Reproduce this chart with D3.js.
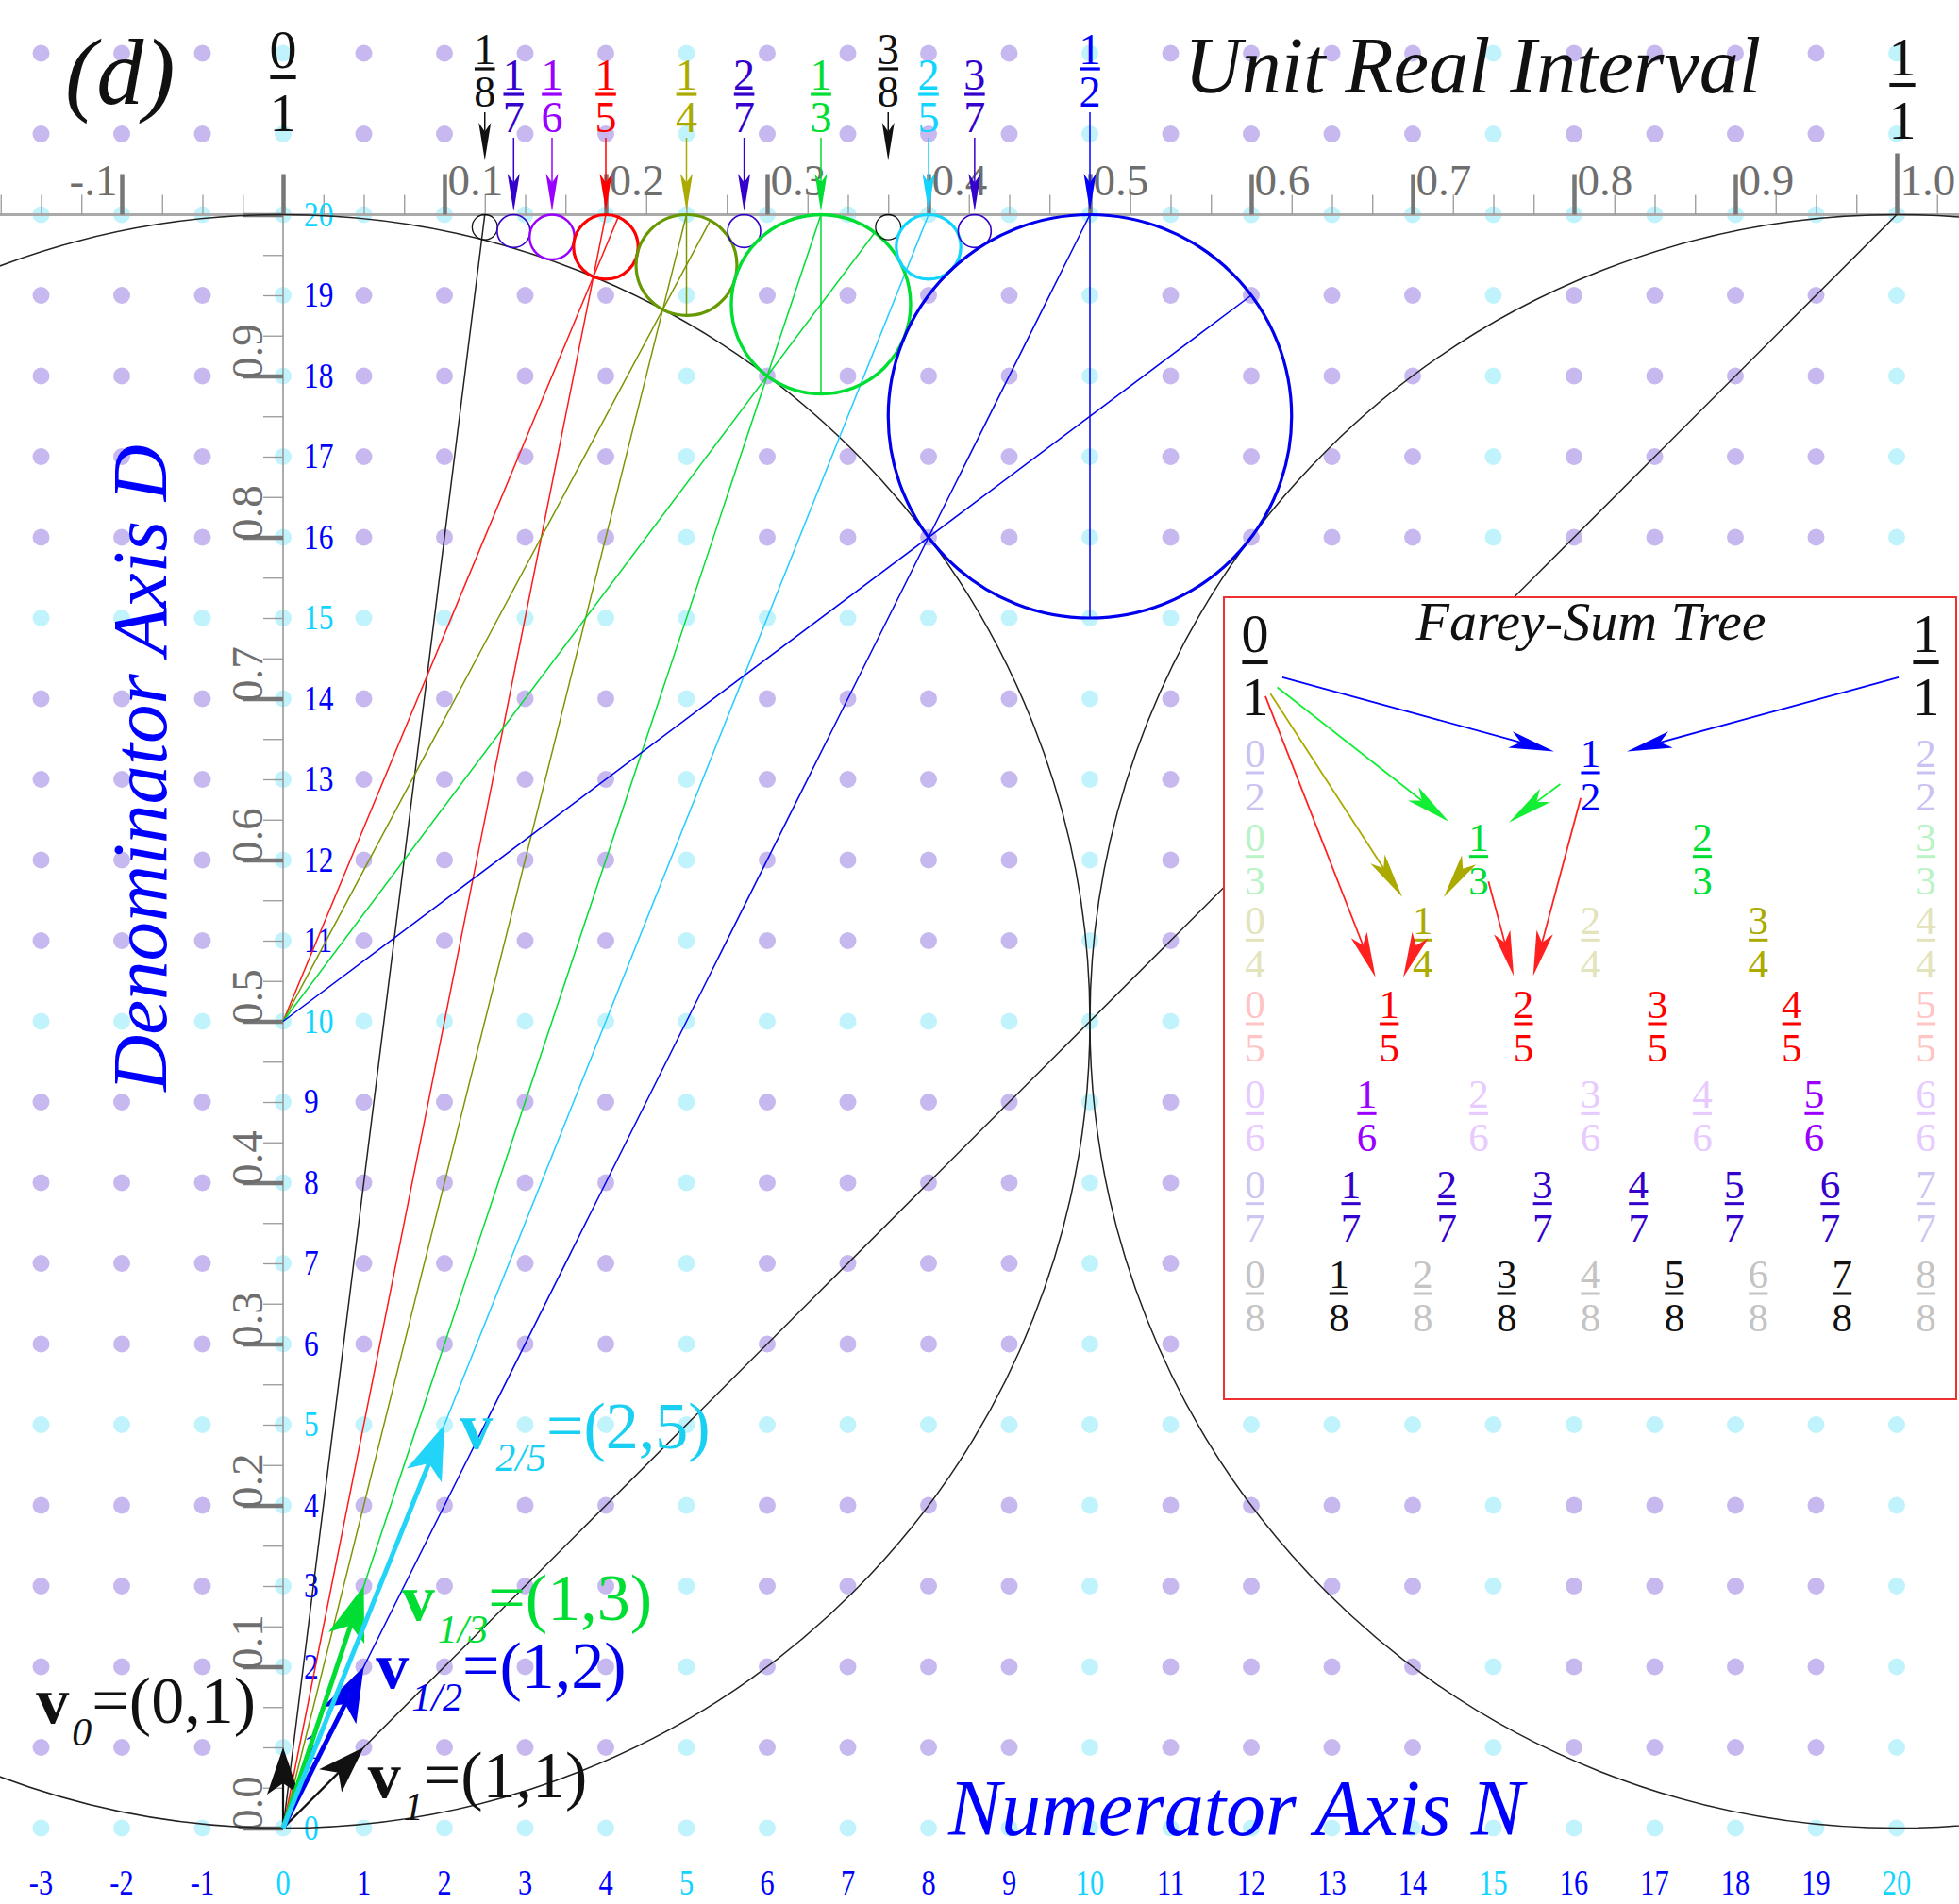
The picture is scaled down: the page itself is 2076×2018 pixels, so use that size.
<!DOCTYPE html>
<html lang="en">
<head>
<meta charset="UTF-8">
<title>Unit Real Interval</title>
<script src="https://cdnjs.cloudflare.com/ajax/libs/d3/7.8.5/d3.min.js"></script>
<style>
    * { margin: 0; padding: 0; box-sizing: border-box; }
    body { background: #fff; }
    svg { display: block; }
</style>
</head>
<body>
<div id="chart"></div>
<script>
    const width = 2076, height = 2018;
    const serif = '"Liberation Serif", "Times New Roman", serif';

    // lattice of (numerator, denominator) points
    const latticeN = d3.range(-3, 21);
    const latticeD = d3.range(0, 23);
    const bottomLabels = d3.range(-3, 21);
    const sideLabels = d3.range(0, 21);

    // unit real interval axis (top) and its copy on the D axis
    const intervalMinor = d3.range(-7, 42).map(i => i / 40);
    const intervalMajor = [-0.1, 0, 0.1, 0.2, 0.3, 0.4, 0.5, 0.6, 0.7, 0.8, 0.9, 1.0];
    const intervalTickLabels = ["-.1", "", "0.1", "0.2", "0.3", "0.4", "0.5", "0.6", "0.7", "0.8", "0.9", "1.0"];
    const denomMinor = d3.range(0, 41).map(i => i / 40);
    const denomMajor = [0, 0.1, 0.2, 0.3, 0.4, 0.5, 0.6, 0.7, 0.8, 0.9, 1.0];
    const denomTickLabels = ["0.0", "0.1", "0.2", "0.3", "0.4", "0.5", "0.6", "0.7", "0.8", "0.9", ""];

    // fractions
    const topFractions = ["1/8", "1/7", "1/6", "1/5", "1/4", "2/7", "1/3", "3/8", "2/5", "3/7", "1/2"];
    const endFractions = ["0/1", "1/1"];
    const originRays = ["1/8", "1/5", "1/4", "1/3", "2/5", "1/2", "1/1"];
    const centerRays = ["1/5", "1/4", "1/3", "1/2"];
    const diameters = ["1/4", "1/3", "1/2"];
    const vectors = [
        { label: "0", n: 0, d: 1 },
        { label: "1", n: 1, d: 1 },
        { label: "1/2", n: 1, d: 2 },
        { label: "1/3", n: 1, d: 3 },
        { label: "2/5", n: 2, d: 5 }
    ];
    const treeDenominators = [1, 2, 3, 4, 5, 6, 7, 8];
    const treeEdges = [
        ["0/1", "1/2"], ["1/1", "1/2"],
        ["0/1", "1/3"], ["1/2", "1/3"],
        ["0/1", "1/4"], ["1/3", "1/4"],
        ["0/1", "1/5"], ["1/4", "1/5"],
        ["1/3", "2/5"], ["1/2", "2/5"]
    ];

    // styles
    const fracColor = {
        "0/1": "#111", "1/1": "#111", "1/8": "#111", "3/8": "#111",
        "1/7": "#3300cc", "2/7": "#3300cc", "3/7": "#3300cc",
        "1/6": "#9900ff", "1/5": "#ff0000", "1/4": "#aaaa00",
        "1/3": "#00dd33", "2/5": "#11d4ff", "1/2": "#0000ff"
    };
    const circleColor = Object.assign({}, fracColor, { "1/4": "#669900", "1/2": "#0000ee", "0/1": "#222", "1/1": "#222" });
    const circleWidth = {
        "1/8": 1.3, "3/8": 1.3, "1/7": 1.6, "2/7": 1.6, "3/7": 1.6, "1/6": 2.4,
        "1/5": 3.2, "1/4": 3.2, "1/3": 3.4, "2/5": 3.2, "1/2": 3.2
    };
    const rayColor = {
        "1/8": "#222", "1/1": "#222", "1/5": "#ff1a1a", "1/4": "#7a9400",
        "1/3": "#00dd33", "2/5": "#22ccff", "1/2": "#0000ee"
    };
    const highLabels = ["1/8", "3/8", "1/2"];
    const vecColor = { "0": "#111", "1": "#111", "1/2": "#0000ee", "1/3": "#00dd33", "2/5": "#22d4f8" };
    const vecLabelPos = { "0": [-3.06, 1.30], "1": [1.05, 0.38], "1/2": [1.15, 1.74], "1/3": [1.47, 2.58], "2/5": [2.19, 4.71] };
    const treeColor = { 1: "#111", 2: "#0000ff", 3: "#00dd33", 4: "#aaaa00", 5: "#ff0000", 6: "#9900ff", 7: "#3300cc", 8: "#111" };
    const treeFade = { 2: "#c9c2f2", 3: "#b9f3c6", 4: "#e3e3bc", 5: "#ffc4c4", 6: "#e7caff", 7: "#cdc6f2", 8: "#c4c4c4" };
    const treeEdgeColor = { 2: "#0000ff", 3: "#11ee33", 4: "#aaaa00", 5: "#ff2020" };

    const frac = s => { const [p, q] = s.split("/").map(Number); return { p, q, v: p / q }; };
    const gcd = (a, b) => b === 0 ? a : gcd(b, a % b);

    const x = d3.scaleLinear().domain([0, 20]).range([300, 2010]);
    const y = d3.scaleLinear().domain([0, 20]).range([1937.5, 227.5]);
    const unit = x(1) - x(0);
    const t = d3.scaleLinear().domain([0, 1]).range([x(0), x(20)]);
    const s = d3.scaleLinear().domain([0, 1]).range([y(0), y(20)]);

    const svg = d3.select("#chart").append("svg")
        .attr("width", width).attr("height", height)
        .style("font-family", serif);
    svg.append("rect").attr("width", width).attr("height", height).attr("fill", "#fff");

    function arrow(g, x1, y1, x2, y2, color, lw, headLen, headW) {
        const L = Math.hypot(x2 - x1, y2 - y1), ux = (x2 - x1) / L, uy = (y2 - y1) / L;
        const nx = -uy, ny = ux;
        const bx = x2 - ux * headLen, by = y2 - uy * headLen;
        const kx = x2 - ux * headLen * 0.76, ky = y2 - uy * headLen * 0.76;
        g.append("line").attr("x1", x1).attr("y1", y1).attr("x2", kx).attr("y2", ky)
            .attr("stroke", color).attr("stroke-width", lw);
        const p = d3.path();
        p.moveTo(x2, y2);
        p.lineTo(bx + nx * headW / 2, by + ny * headW / 2);
        p.lineTo(kx, ky);
        p.lineTo(bx - nx * headW / 2, by - ny * headW / 2);
        p.closePath();
        g.append("path").attr("d", p.toString()).attr("fill", color);
    }

    function fraction(g, cx, barY, p, q, size, numGap, denGap, color) {
        g.append("text").attr("x", cx).attr("y", barY - numGap).attr("text-anchor", "middle")
            .attr("font-size", size).attr("fill", color).text(p);
        g.append("rect").attr("x", cx - size * 0.235).attr("y", barY - size * 0.035)
            .attr("width", size * 0.47).attr("height", size * 0.07).attr("fill", color);
        g.append("text").attr("x", cx).attr("y", barY + denGap).attr("text-anchor", "middle")
            .attr("font-size", size).attr("fill", color).text(q);
    }

    // lattice dots
    svg.append("g").selectAll("circle")
        .data(d3.cross(latticeN, latticeD))
        .join("circle")
        .attr("cx", d => x(d[0])).attr("cy", d => y(d[1])).attr("r", 9)
        .attr("fill", d => (d[0] % 5 === 0 || d[1] % 5 === 0) ? "#c1f3fc" : "#c7b9ef");

    // top axis: unit real interval
    const gTop = svg.append("g").attr("transform", `translate(0,${y(20)})`);
    gTop.append("line").attr("x1", 0).attr("x2", width).attr("stroke", "#aaa").attr("stroke-width", 3);
    gTop.append("g")
        .call(d3.axisTop(t).tickValues(intervalMinor).tickSize(21).tickFormat(""))
        .call(g => g.select(".domain").remove())
        .selectAll("line").attr("stroke", "#999").attr("stroke-width", 1.3);
    gTop.append("g")
        .call(d3.axisTop(t).tickValues(intervalMajor).tickSize(43).tickFormat((d, i) => intervalTickLabels[i]))
        .call(g => g.select(".domain").remove())
        .call(g => g.selectAll("line").attr("stroke", "#777").attr("stroke-width", 4.5)
            .attr("y2", d => d === 1 ? -65 : -43))
        .call(g => g.selectAll("text")
            .attr("fill", "#6e6e6e").attr("font-size", 47).attr("font-family", serif)
            .attr("y", -21).attr("dy", 0)
            .attr("x", d => d < 0 ? -5 : 3)
            .attr("text-anchor", d => d < 0 ? "end" : "start"));

    // left axis: denominator
    const gLeft = svg.append("g").attr("transform", `translate(${x(0)},0)`);
    gLeft.append("line").attr("y1", y(0)).attr("y2", y(20)).attr("stroke", "#999").attr("stroke-width", 1.6);
    gLeft.append("g")
        .call(d3.axisLeft(s).tickValues(denomMinor).tickSize(21).tickFormat(""))
        .call(g => g.select(".domain").remove())
        .selectAll("line").attr("stroke", "#999").attr("stroke-width", 1.3);
    gLeft.append("g")
        .call(d3.axisLeft(s).tickValues(denomMajor).tickSize(43).tickFormat((d, i) => denomTickLabels[i]))
        .call(g => g.select(".domain").remove())
        .call(g => g.selectAll("line").attr("stroke", "#777").attr("stroke-width", 4.5))
        .call(g => g.selectAll("text")
            .attr("fill", "#6e6e6e").attr("font-size", 47).attr("font-family", serif)
            .attr("x", 0).attr("y", 0).attr("dy", 0).attr("text-anchor", "start")
            .attr("transform", "translate(-22,3) rotate(-90)"));

    // side and bottom number labels
    svg.append("g").selectAll("text").data(sideLabels).join("text")
        .attr("transform", d => `translate(${x(0) + 22},${y(d) + 12}) scale(0.85,1)`)
        .attr("font-size", 37)
        .attr("fill", d => d % 5 === 0 ? "#11d4ff" : "#0000ff")
        .text(d => d);
    svg.append("g").selectAll("text").data(bottomLabels).join("text")
        .attr("transform", d => `translate(${x(d)},2008) scale(0.82,1)`)
        .attr("text-anchor", "middle").attr("font-size", 37)
        .attr("fill", d => d % 5 === 0 ? "#11d4ff" : "#0000ff")
        .text(d => d);

    // Ford circles of 0/1 and 1/1
    const gGeom = svg.append("g").attr("fill", "none");
    endFractions.forEach(f => {
        const { v } = frac(f);
        gGeom.append("circle").attr("cx", x(20 * v)).attr("cy", y(10)).attr("r", 10 * unit)
            .attr("stroke", circleColor[f]).attr("stroke-width", 1.5);
    });

    // rays from origin to each fraction on the interval
    originRays.forEach(f => {
        const { v } = frac(f);
        gGeom.append("line").attr("x1", x(0)).attr("y1", y(0)).attr("x2", x(20 * v)).attr("y2", y(20))
            .attr("stroke", rayColor[f]).attr("stroke-width", 1.5);
    });

    // rays from the centre of 0/1 through each circle centre
    centerRays.forEach(f => {
        const { q, v } = frac(f);
        const r = 10 / (q * q), cn = 20 * v, cd = 20 - r;
        const L = Math.hypot(cn, cd - 10);
        const fn = cn + r * cn / L, fd = cd + r * (cd - 10) / L;
        gGeom.append("line").attr("x1", x(0)).attr("y1", y(10)).attr("x2", x(fn)).attr("y2", y(fd))
            .attr("stroke", rayColor[f]).attr("stroke-width", 1.5);
    });

    diameters.forEach(f => {
        const { q, v } = frac(f);
        gGeom.append("line").attr("x1", x(20 * v)).attr("y1", y(20)).attr("x2", x(20 * v)).attr("y2", y(20 - 20 / (q * q)))
            .attr("stroke", rayColor[f]).attr("stroke-width", 1.5);
    });

    // Ford circles along the interval
    topFractions.forEach(f => {
        const { q, v } = frac(f);
        const r = 10 / (q * q);
        gGeom.append("circle").attr("cx", x(20 * v)).attr("cy", y(20 - r)).attr("r", r * unit)
            .attr("stroke", circleColor[f]).attr("stroke-width", circleWidth[f]);
    });

    // fraction labels with arrows at the top
    const gLab = svg.append("g");
    topFractions.forEach(f => {
        const { p, q, v } = frac(f);
        const high = highLabels.includes(f);
        const bar = high ? 73 : 100;
        const cx = x(20 * v);
        fraction(gLab, cx, bar, p, q, 46, 5, 40, fracColor[f]);
        const end = (f === "1/8" || f === "3/8") ? 170 : 224;
        arrow(gLab, cx, bar + 46, cx, end, fracColor[f], 1.5, 40, 13);
    });
    fraction(gLab, x(0), 82, 0, 1, 58, 10, 57, "#111");
    fraction(gLab, x(20) + 6, 90, 1, 1, 58, 10, 57, "#111");

    // inset: Farey-sum tree
    const box = { x: 1297, y: 633, w: 776, h: 850 };
    const gTree = svg.append("g");
    gTree.append("rect").attr("x", box.x).attr("y", box.y).attr("width", box.w).attr("height", box.h)
        .attr("fill", "#fff").attr("stroke", "#ee3030").attr("stroke-width", 2);
    gTree.append("text").attr("x", 1686).attr("y", 678).attr("text-anchor", "middle")
        .attr("font-size", 58).attr("font-style", "italic").attr("fill", "#111")
        .text("Farey-Sum Tree");

    const treeX = d3.scaleLinear().domain([0, 1]).range([1330, 2041]);
    const treeBar = d3.scaleLinear().domain([1, 2, 5, 8]).range([702, 819, 1085, 1371]);

    treeDenominators.forEach(q => {
        d3.range(q + 1).forEach(p => {
            const big = q === 1;
            const reduced = gcd(p, q) === 1;
            const color = big || reduced ? treeColor[q] : treeFade[q];
            if (big) fraction(gTree, treeX(p / q), treeBar(q), p, q, 58, 11, 56, color);
            else fraction(gTree, treeX(p / q), treeBar(q), p, q, 43, 6, 40, color);
        });
    });

    const anchor = f => {
        const { q, v } = frac(f);
        return q === 1 ? [treeX(v), treeBar(1) + 8] : [treeX(v), treeBar(q) - 12];
    };
    treeEdges.forEach(([a, b]) => {
        const [ax, ay] = anchor(a), [bx, by] = anchor(b);
        const L = Math.hypot(bx - ax, by - ay), ux = (bx - ax) / L, uy = (by - ay) / L;
        const ta = frac(a).q === 1 ? 30 : 40;
        arrow(gTree, ax + ux * ta, ay + uy * ta, bx - ux * 40, by - uy * 40,
            treeEdgeColor[frac(b).q], 1.8, 48, 18);
    });

    // basis vectors
    const gVec = svg.append("g");
    vectors.forEach(vc => {
        const black = vc.label === "0" || vc.label === "1";
        arrow(gVec, x(0), y(0), x(vc.n), y(vc.d), vecColor[vc.label],
            black ? 2.2 : 5, black ? 50 : 58, black ? 34 : 40);
    });
    vectors.forEach(vc => {
        const pos = vecLabelPos[vc.label];
        const color = vc.label === "2/5" ? "#1ad0f2" : vecColor[vc.label];
        const tx = gVec.append("text").attr("x", x(pos[0])).attr("y", y(pos[1]))
            .attr("font-size", 70).attr("fill", color);
        tx.append("tspan").attr("font-weight", "bold").text("v");
        tx.append("tspan").attr("font-style", "italic").attr("font-size", 42)
            .attr("dx", 3).attr("dy", 24).text(vc.label);
        tx.append("tspan").attr("dy", -24).text(`=(${vc.n},${vc.d})`);
    });

    // titles
    svg.append("text").attr("x", 69).attr("y", 110)
        .attr("font-size", 100).attr("font-style", "italic").attr("fill", "#111").text("(d)");
    svg.append("text").attr("x", 1255).attr("y", 98)
        .attr("font-size", 84).attr("font-style", "italic").attr("fill", "#111").text("Unit Real Interval");
    svg.append("text").attr("transform", "translate(176,814) rotate(-90)")
        .attr("text-anchor", "middle")
        .attr("font-size", 83).attr("font-style", "italic").attr("fill", "#0000ff").text("Denominator Axis D");
    svg.append("text").attr("x", 1005).attr("y", 1945)
        .attr("font-size", 84).attr("font-style", "italic").attr("fill", "#0000ff").text("Numerator Axis N");
</script>
</body>
</html>
